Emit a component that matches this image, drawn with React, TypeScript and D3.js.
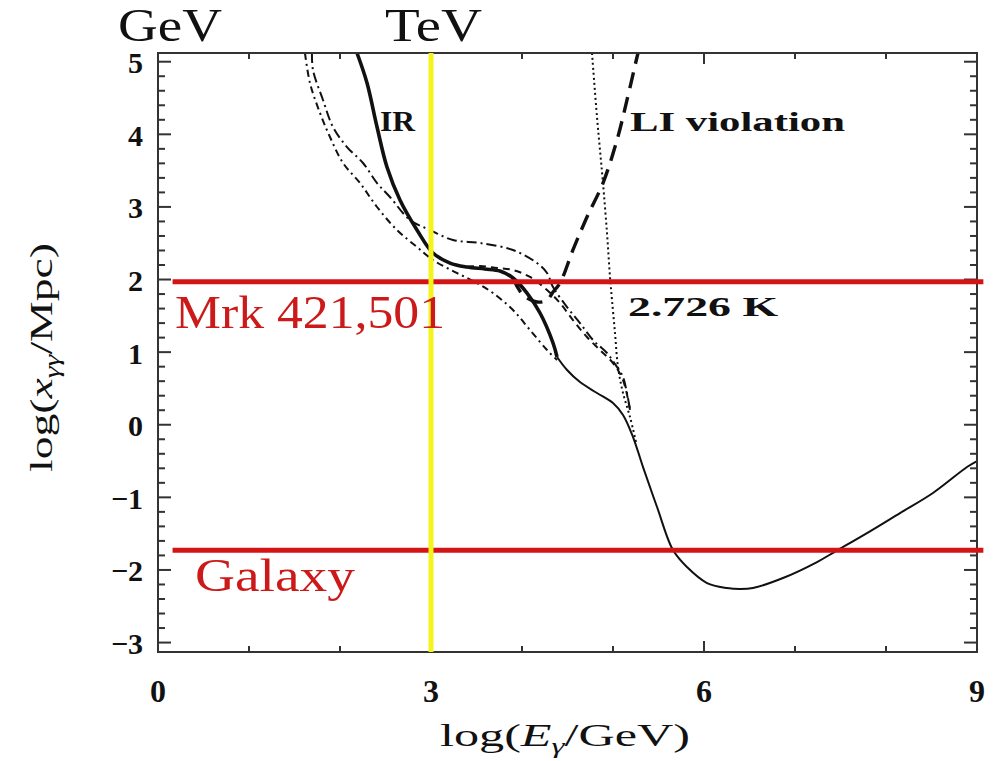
import * as d3 from 'd3'
import { useEffect, useRef } from 'react'

type Pt = [number, number]

// [log(E/GeV), log(x/Mpc)]
const irThick: Pt[] = [
  [2.187, 5.12], [2.297, 4.707], [2.407, 4.101], [2.516, 3.55], [2.659, 3.095],
  [2.846, 2.682], [3.022, 2.365], [3.209, 2.227], [3.396, 2.172], [3.593, 2.145],
  [3.758, 2.117], [3.901, 2.021], [4.055, 1.814], [4.198, 1.539], [4.341, 1.126],
  [4.385, 0.933],
]

const irThin: Pt[] = [
  [4.385, 0.933], [4.495, 0.754], [4.637, 0.588], [4.824, 0.437], [5.0, 0.299],
  [5.11, 0.134], [5.22, -0.169], [5.33, -0.583], [5.484, -1.133], [5.659, -1.726],
  [5.813, -1.96], [6.033, -2.18], [6.253, -2.249], [6.396, -2.263], [6.538, -2.249],
  [6.868, -2.111], [7.242, -1.891], [7.45, -1.74], [7.791, -1.492], [8.154, -1.216],
  [8.516, -0.94], [8.89, -0.582], [9.0, -0.5],
]

const liViolation: Pt[] = [
  [3.901, 2.021], [4.011, 1.787], [4.165, 1.69], [4.275, 1.718], [4.341, 1.828],
  [4.418, 1.952], [4.56, 2.407], [4.714, 2.861], [4.89, 3.329], [5.044, 3.922],
  [5.154, 4.473], [5.264, 5.065], [5.275, 5.12],
]

const dashDotUpper: Pt[] = [
  [1.692, 5.12], [1.703, 4.886], [1.813, 4.473], [1.923, 4.101], [2.077, 3.825],
  [2.253, 3.605], [2.407, 3.329], [2.549, 3.137], [2.769, 2.82], [2.989, 2.682],
  [3.242, 2.544], [3.538, 2.503], [3.901, 2.406], [4.165, 2.227], [4.275, 2.09],
  [4.341, 1.897], [4.495, 1.621], [4.637, 1.401], [4.78, 1.167], [4.934, 0.988],
  [5.044, 0.795], [5.11, 0.657], [5.187, 0.203],
]

const dashDotLower: Pt[] = [
  [1.615, 5.12], [1.67, 4.707], [1.78, 4.294], [1.89, 3.963], [2.033, 3.605],
  [2.22, 3.329], [2.407, 2.999], [2.626, 2.682], [2.846, 2.448], [3.022, 2.269],
  [3.264, 2.103], [3.484, 1.966], [3.681, 1.814], [3.901, 1.58], [4.088, 1.305],
  [4.275, 1.029], [4.385, 0.891],
]

const dashedMid: Pt[] = [
  [3.396, 2.172], [3.538, 2.186], [3.725, 2.159], [3.901, 2.131], [4.088, 2.035],
  [4.275, 1.856], [4.418, 1.676], [4.56, 1.442], [4.714, 1.208], [4.857, 1.029],
  [5.0, 0.85], [5.11, 0.616], [5.187, 0.203],
]

const cmbDotted: Pt[] = [
  [4.769, 5.12], [4.824, 4.239], [4.857, 3.784], [4.89, 3.329], [4.934, 2.641],
  [4.967, 2.035], [4.989, 1.718], [5.022, 1.263], [5.055, 0.795], [5.11, 0.437],
  [5.187, 0.106], [5.253, -0.238],
]

const mrkLevel = 1.97
const galaxyLevel = -1.73
const redLineSpan = [0.16, 9.07]
const tevMark = 3

const xLabelTicks = [0, 3, 6, 9]
const xMinorTicks = [1, 2, 4, 5, 7, 8]
const yLabelTicks = [-3, -2, -1, 0, 1, 2, 3, 4, 5]

const serif = '"Liberation Serif", "DejaVu Serif", serif'

export default function App() {
  const ref = useRef<SVGSVGElement | null>(null)

  useEffect(() => {
    if (!ref.current) return
    const svg = d3.select(ref.current)
    svg.selectAll('*').remove()

    const x = d3.scaleLinear().domain([0, 9]).range([158, 977])
    const y = d3.scaleLinear().domain([-3.13, 5.12]).range([652, 53])
    const [x0, x1] = x.range()
    const [y0, y1] = y.range()

    const line = d3.line<Pt>()
      .x(d => x(d[0]))
      .y(d => y(d[1]))
      .curve(d3.curveCatmullRom.alpha(0.5))

    const curves: { data: Pt[]; w: number; dash: string | null }[] = [
      { data: dashDotLower, w: 2, dash: '7 4 2 4' },
      { data: dashDotUpper, w: 2, dash: '10 4 2 4' },
      { data: dashedMid, w: 2, dash: '7 5' },
      { data: cmbDotted, w: 2, dash: '2 3' },
      { data: irThin, w: 2, dash: null },
      { data: irThick, w: 3.6, dash: null },
      { data: liViolation, w: 3.4, dash: '16 9' },
    ]

    const plot = svg.append('g')
    curves.forEach(c => {
      plot.append('path')
        .datum(c.data)
        .attr('fill', 'none')
        .attr('stroke', '#111')
        .attr('stroke-width', c.w)
        .attr('stroke-dasharray', c.dash)
        .attr('d', line)
    })

    // frame
    svg.append('rect')
      .attr('x', x0).attr('y', y1)
      .attr('width', x1 - x0).attr('height', y0 - y1)
      .attr('fill', 'none').attr('stroke', '#333').attr('stroke-width', 2)

    const ticks = svg.append('g').attr('stroke', '#333').attr('stroke-width', 2)
    const yMinor = d3.range(-3, 5.01, 0.2).filter(v => Math.abs(v - Math.round(v)) > 0.01)
    yLabelTicks.forEach(v => {
      ticks.append('line').attr('x1', x0).attr('x2', x0 + 13).attr('y1', y(v)).attr('y2', y(v))
      ticks.append('line').attr('x1', x1).attr('x2', x1 - 13).attr('y1', y(v)).attr('y2', y(v))
    })
    yMinor.forEach(v => {
      ticks.append('line').attr('x1', x0).attr('x2', x0 + 7).attr('y1', y(v)).attr('y2', y(v))
      ticks.append('line').attr('x1', x1).attr('x2', x1 - 7).attr('y1', y(v)).attr('y2', y(v))
    })
    xLabelTicks.forEach(v => {
      ticks.append('line').attr('x1', x(v)).attr('x2', x(v)).attr('y1', y0).attr('y2', y0 - 11)
      ticks.append('line').attr('x1', x(v)).attr('x2', x(v)).attr('y1', y1).attr('y2', y1 + 11)
    })
    xMinorTicks.forEach(v => {
      ticks.append('line').attr('x1', x(v)).attr('x2', x(v)).attr('y1', y0).attr('y2', y0 - 6)
      ticks.append('line').attr('x1', x(v)).attr('x2', x(v)).attr('y1', y1).attr('y2', y1 + 6)
    })

    const fmt = d3.format('d')
    svg.append('g')
      .selectAll('text')
      .data(yLabelTicks)
      .join('text')
      .attr('x', 143)
      .attr('y', d => y(d) + 1)
      .attr('dy', '0.35em')
      .attr('text-anchor', 'end')
      .attr('font-family', serif)
      .attr('font-weight', 'bold')
      .attr('font-size', 30)
      .attr('fill', '#111')
      .text(d => fmt(d))

    svg.append('g')
      .selectAll('text')
      .data(xLabelTicks)
      .join('text')
      .attr('x', d => x(d))
      .attr('y', 702)
      .attr('text-anchor', 'middle')
      .attr('font-family', serif)
      .attr('font-weight', 'bold')
      .attr('font-size', 32)
      .attr('fill', '#111')
      .text(d => fmt(d))

    // axis titles
    const xt = svg.append('text')
      .attr('x', 440).attr('y', 746)
      .attr('font-family', serif)
      .attr('font-size', 32)
      .attr('fill', '#111')
      .attr('textLength', 250)
      .attr('lengthAdjust', 'spacingAndGlyphs')
    xt.append('tspan').text('log(')
    xt.append('tspan').attr('font-style', 'italic').text('E')
    xt.append('tspan').attr('font-style', 'italic').attr('font-size', 21).attr('dy', 7).text('γ')
    xt.append('tspan').attr('dy', -7).text('/GeV)')

    const yt = svg.append('text')
      .attr('transform', 'translate(52,472) rotate(-90)')
      .attr('font-family', serif)
      .attr('font-size', 32)
      .attr('fill', '#111')
      .attr('textLength', 229)
      .attr('lengthAdjust', 'spacingAndGlyphs')
    yt.append('tspan').text('log(')
    yt.append('tspan').attr('font-style', 'italic').text('x')
    yt.append('tspan').attr('font-style', 'italic').attr('font-size', 21).attr('dy', 7).text('γγ')
    yt.append('tspan').attr('dy', -7).text('/Mpc)')

    // in-plot labels
    const note = (tx: number, ty: number, s: string, len: number, fs: number) =>
      svg.append('text')
        .attr('x', tx).attr('y', ty)
        .attr('font-family', serif)
        .attr('font-weight', 'bold')
        .attr('font-size', fs)
        .attr('fill', '#111')
        .attr('textLength', len)
        .attr('lengthAdjust', 'spacingAndGlyphs')
        .text(s)
    note(380, 131, 'IR', 35, 29)
    note(630, 131, 'LI violation', 215, 28)
    note(628, 316, '2.726 K', 150, 28)

    // red reference levels
    const levels = [mrkLevel, galaxyLevel]
    svg.append('g')
      .selectAll('line')
      .data(levels)
      .join('line')
      .attr('x1', x(redLineSpan[0]))
      .attr('x2', x(redLineSpan[1]))
      .attr('y1', d => y(d))
      .attr('y2', d => y(d))
      .attr('stroke', '#d41414')
      .attr('stroke-width', 5)

    // TeV marker
    svg.append('line')
      .attr('x1', x(tevMark)).attr('x2', x(tevMark))
      .attr('y1', y1).attr('y2', y0)
      .attr('stroke', '#f4f41c')
      .attr('stroke-width', 5)

    const red = (tx: number, ty: number, s: string, len: number) =>
      svg.append('text')
        .attr('x', tx).attr('y', ty)
        .attr('font-family', serif)
        .attr('font-size', 46)
        .attr('fill', '#cc1a1a')
        .attr('textLength', len)
        .attr('lengthAdjust', 'spacingAndGlyphs')
        .text(s)
    red(175, 328, 'Mrk 421,501', 270)
    red(195, 591, 'Galaxy', 160)

    const top = (tx: number, s: string, len: number) =>
      svg.append('text')
        .attr('x', tx).attr('y', 41)
        .attr('font-family', serif)
        .attr('font-size', 46)
        .attr('fill', '#111')
        .attr('textLength', len)
        .attr('lengthAdjust', 'spacingAndGlyphs')
        .text(s)
    top(118, 'GeV', 104)
    top(385, 'TeV', 97)
  }, [])

  return (
    <svg
      ref={ref}
      width={998}
      height={761}
      style={{ position: 'absolute', left: 0, top: 0, background: '#fff' }}
    />
  )
}
